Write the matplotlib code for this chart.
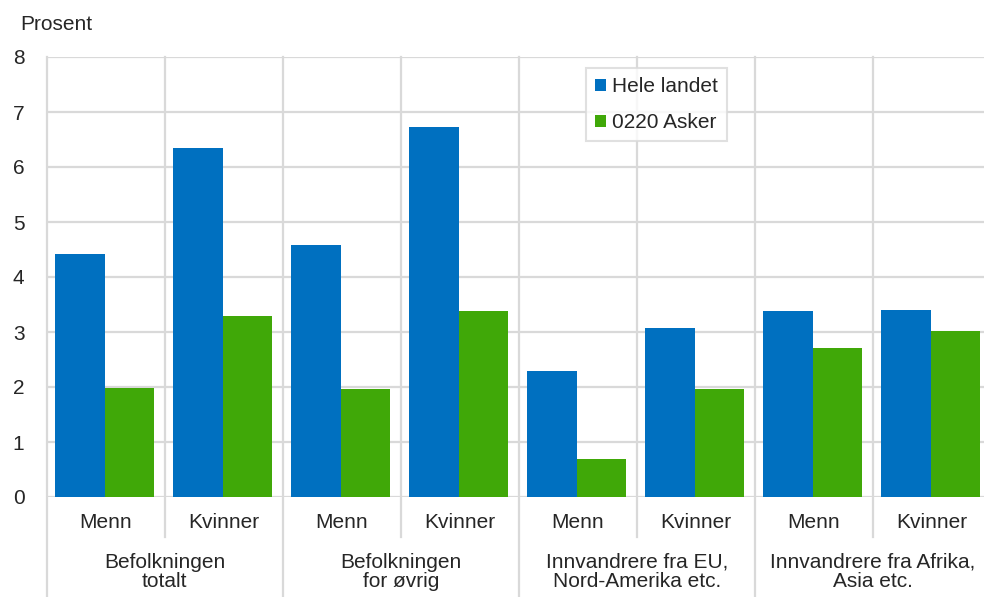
import matplotlib.pyplot as plt
import matplotlib.transforms as mtransforms
import numpy as np

plt.rcParams['font.family'] = ['Liberation Sans', 'DejaVu Sans']

# data
groups = ["Befolkningen\ntotalt", "Befolkningen\nfor øvrig",
          "Innvandrere fra EU,\nNord-Amerika etc.", "Innvandrere fra Afrika,\nAsia etc."]
sexes = ["Menn", "Kvinner"]
hele_landet = [4.41, 6.35, 4.58, 6.73, 2.29, 3.07, 3.38, 3.40]
asker = [1.99, 3.29, 1.97, 3.39, 0.69, 1.97, 2.71, 3.02]
series_names = ["Hele landet", "0220 Asker"]

blue = '#0070C0'
green = '#40A808'
grid = '#D9D9D9'
txt = '#262626'
fs = 15

fig = plt.figure(figsize=(9.84, 5.97), dpi=100)
ax = fig.add_axes([46.7 / 984, 100 / 597, 944 / 984, 440 / 597])

x = np.arange(len(hele_landet))
w = 0.417
ax.bar(x - w / 2 - 0.01, hele_landet, w, color=blue, label=series_names[0], zorder=3)
ax.bar(x + w / 2 - 0.01, asker, w, color=green, label=series_names[1], zorder=3)

ax.set_xlim(-0.5, len(x) - 0.5)
ax.set_ylim(0, 8)
ax.set_yticks(range(0, 9))
ax.tick_params(axis='y', length=0, pad=16, labelsize=fs, labelcolor=txt)
ax.set_xticks([])
for s in ax.spines.values():
    s.set_visible(False)
ax.yaxis.grid(True, color=grid, lw=1.6, zorder=0)

# vertical lines: inside plot and below it
trans = mtransforms.blended_transform_factory(ax.transData, ax.transAxes)
for k in range(len(x)):
    xv = k - 0.5
    bottom = -0.227 if k % 2 == 0 else -0.091
    ax.plot([xv, xv], [1, bottom], transform=trans, color=grid, lw=1.6,
            clip_on=False, zorder=1)

# category labels
for i in x:
    ax.text(i, -0.057, sexes[i % 2], transform=trans, ha='center', va='center',
            fontsize=fs, color=txt)
for g, name in enumerate(groups):
    ax.text(2 * g + 0.5, -0.17, name, transform=trans, ha='center', va='center',
            fontsize=fs, color=txt, linespacing=1.0)

fig.text(20 / 984, 1 - 25 / 597, "Prosent", fontsize=fs, color=txt, va='center')

leg = ax.legend(loc='upper left', bbox_to_anchor=(586 / 984, 1 - 68 / 597),
                bbox_transform=fig.transFigure, frameon=True, fancybox=False,
                edgecolor=grid, fontsize=fs, handlelength=0.5, handleheight=0.5,
                handletextpad=0.3, labelspacing=0.8, borderpad=0.45,
                borderaxespad=0)
leg.get_frame().set_linewidth(1.5)
for t in leg.get_texts():
    t.set_color(txt)

fig.savefig('out.png', dpi=100)
